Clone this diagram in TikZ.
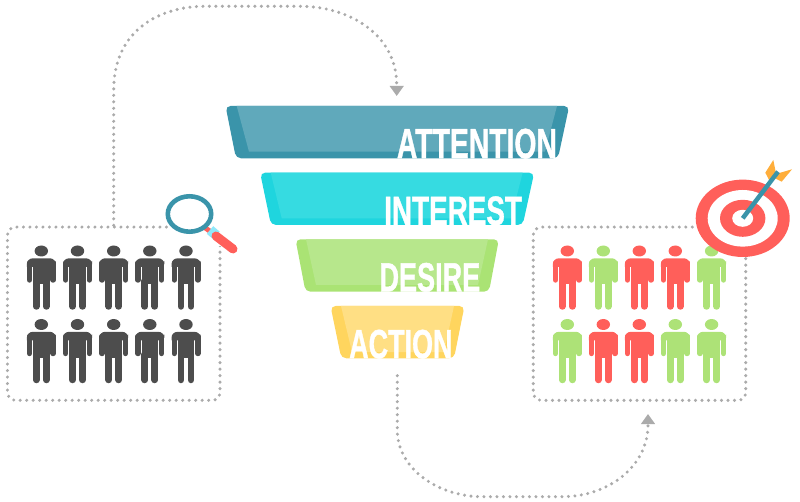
\documentclass[tikz,border=0pt]{standalone}
\usepackage{graphicx,xcolor}
\usepackage{fontspec}
\setmainfont{Liberation Sans}
\newfontface\stagefont[FakeBold=1.2]{Liberation Sans Bold}
\usetikzlibrary{arrows.meta,positioning}

\definecolor{manred}{HTML}{FF5F5A}
\definecolor{mangreen}{HTML}{ADE277}
\definecolor{mangray}{HTML}{4D4D4D}
\definecolor{dotgray}{HTML}{ABABAB}
\definecolor{tealdark}{HTML}{3A94AA}
\definecolor{teallight}{HTML}{60A9BB}
\definecolor{cyandark}{HTML}{1FD5DE}
\definecolor{cyanlight}{HTML}{36DBE1}
\definecolor{greendark}{HTML}{AAE374}
\definecolor{greenlight}{HTML}{B7E78C}
\definecolor{yellowdark}{HTML}{FFD55E}
\definecolor{yellowlight}{HTML}{FFDF84}
\definecolor{handlecyan}{HTML}{8FE8FA}
\definecolor{featherorange}{HTML}{FFAE3B}

\tikzset{
	dotline/.style = {draw = dotgray, line width = 3.4pt, line cap = round, dash pattern = on 0pt off 6.5pt},
	crowdbox/.style = {dotline, rounded corners = 8pt, minimum width = 212.5pt, minimum height = 173.3pt, inner sep = 0pt},
	stagelabel/.style = {text = white, inner sep = 0pt, anchor = south west, font = \stagefont},
	pics/person/.style = {code = {
		\fill[#1] (0,0) ellipse (6.7pt and 5.5pt);
		\fill[#1, rounded corners = 6pt] (-14.5,16) -- (-14.5,7.3) -- (14.5,7.3) -- (14.5,16) [sharp corners] -- cycle;
		\fill[#1] (-8.3,9) rectangle (8.3,33);
		\draw[#1, line width = 5.4pt, line cap = round] (-11.8,12) -- (-11.8,29);
		\draw[#1, line width = 5.4pt, line cap = round] (11.8,12) -- (11.8,29);
		\draw[#1, line width = 6.7pt, line cap = round] (-5,30) -- (-5,55.4);
		\draw[#1, line width = 6.7pt, line cap = round] (5,30) -- (5,55.4);
	}}
}

\begin{document}
\begin{tikzpicture}[x = 1pt, y = -1pt]
	\useasboundingbox (0,0) rectangle (800,502);

	% funnel
	\fill[tealdark, rounded corners = 5pt] (225.5,106) -- (569.2,106) -- (558,158.3) -- (236,158.3) -- cycle;
	\fill[teallight] (236.7,106) -- (557,106) -- (545,151.7) -- (249,151.7) -- cycle;
	\fill[cyandark, rounded corners = 5pt] (260.1,172.7) -- (534.2,172.7) -- (522.7,225) -- (271,225) -- cycle;
	\fill[cyanlight] (270.7,172.7) -- (522.7,172.7) -- (511,218.3) -- (281.7,218.3) -- cycle;
	\fill[greendark, rounded corners = 5pt] (295.5,239.3) -- (498.9,239.3) -- (489,291.7) -- (305.5,291.7) -- cycle;
	\fill[greenlight] (306,239.3) -- (488,239.3) -- (478,285) -- (316,285) -- cycle;
	\fill[yellowdark, rounded corners = 5pt] (330.5,306) -- (464.5,306) -- (454,358.3) -- (341.3,358.3) -- cycle;
	\fill[yellowlight] (341,306) -- (454,306) -- (444,352) -- (352,352) -- cycle;

	\node[stagelabel] (attention) at (396.7,158.8) {\resizebox{160pt}{29.5pt}{ATTENTION}};
	\node[stagelabel] (interest) at (384,225.5) {\resizebox{137.7pt}{28.5pt}{INTEREST}};
	\node[stagelabel] (desire) at (379.3,292) {\resizebox{100.7pt}{28.5pt}{DESIRE}};
	\node[stagelabel] (action) at (349,358.8) {\resizebox{103.3pt}{28.5pt}{ACTION}};

	% crowds
	\node[crowdbox] (leftcrowd) at (113.7,313.7) {};
	\node[crowdbox] (rightcrowd) at (639.5,313.7) {};
	\fill[white] (170,190) rectangle (226,246);

	\foreach \xpos in {41.3, 77.5, 113.7, 149.8, 186}{
		\pic at (\xpos,251) {person = mangray};
		\pic at (\xpos,324.5) {person = mangray};
	}
	\foreach \xpos/\col in {567.3/manred, 603.3/mangreen, 639.3/manred, 675.3/manred, 711.6/mangreen}
		\pic at (\xpos,251) {person = \col};
	\foreach \xpos/\col in {567.3/mangreen, 603.3/manred, 639.3/manred, 675.3/mangreen, 711.6/mangreen}
		\pic at (\xpos,324.5) {person = \col};

	% connectors
	\coordinate (attentiontop) at (396.7,96);
	\coordinate (actionbottom) at (397.3,375.7);
	\coordinate (crowdbottom) at (648,414);
	\path[dotline, -{Triangle[width = 13.5pt, length = 10pt, color = dotgray]}] (leftcrowd.north) -- (113.7,90) .. controls (113.7,30) and (160,6.3) .. (205,6.3) -- (300,6.3) .. controls (350,6.3) and (396.7,35) .. (396.7,85) -- (attentiontop);
	\path[dotline, -{Triangle[width = 13.5pt, length = 10pt, color = dotgray]}] (actionbottom) -- (397.3,430) .. controls (397.3,470) and (440,496.7) .. (482,496.7) -- (562,496.7) .. controls (610,496.7) and (648,465) .. (648,425) -- (crowdbottom);

	% magnifier
	\draw[manred, line width = 5pt] (204,227) -- (211,232);
	\draw[handlecyan, line width = 10pt] (210,230) -- (216.5,235.5);
	\draw[manred, line width = 9pt, line cap = round] (216,236) -- (233,249);
	\draw[tealdark, line width = 4.6pt, fill = white] (189.5,214) ellipse (21.7pt and 17.7pt);

	% target
	\fill[manred] (742.7,218.3) ellipse (47pt and 38.7pt);
	\fill[white] (742.7,218.3) ellipse (35pt and 28.3pt);
	\fill[manred] (742.7,218.3) ellipse (22.7pt and 18.5pt);
	\fill[white] (742.7,218.3) ellipse (10.5pt and 8.5pt);
	\fill[featherorange] (773.3,160) -- (765.3,172.7) -- (770,181.7) -- (776,173.3) -- cycle;
	\fill[featherorange] (792,169.3) -- (778.3,173.3) -- (775,178.3) -- (781.7,181.7) -- cycle;
	\draw[tealdark, line width = 4.5pt] (742.7,218.3) -- (778,171.7);
\end{tikzpicture}
\end{document}
